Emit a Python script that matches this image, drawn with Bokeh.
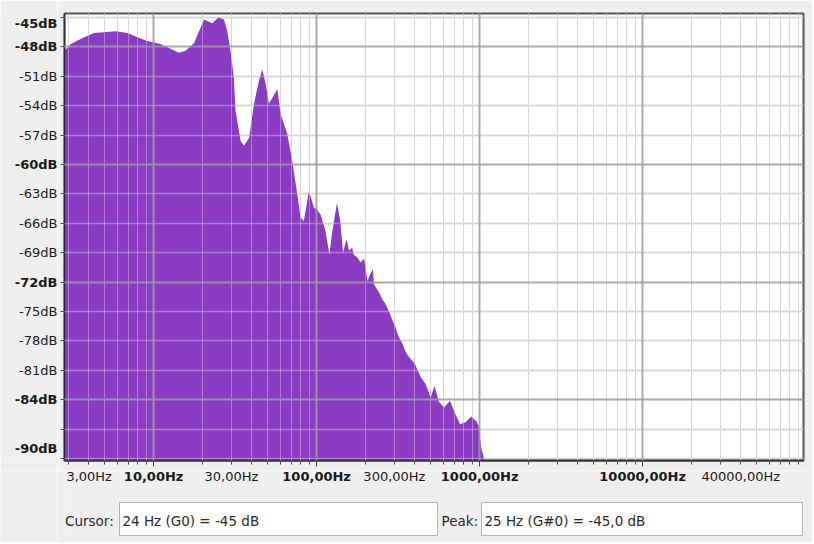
from bokeh.plotting import figure
from bokeh.models import FixedTicker, Grid, Range1d, LinearScale
from bokeh.layouts import gridplot
from bokeh.core.properties import value
from bokeh.embed import file_html
from bokeh.resources import INLINE

# ---- spectrum data (Hz, dB) ----
freqs = [2.84, 3.1, 3.56, 4.3, 4.96, 5.85, 6.9, 7.9, 9.1, 11.0, 12.7, 14.3, 15.7,
         17.7, 19.0, 20.4, 22.9, 25.0, 27.0, 28.3, 29.6, 31.0, 31.8, 34.2, 35.8,
         38.5, 41.3, 44.2, 46.4, 48.7, 51.0, 53.5, 57.4, 60.2, 66.1, 70.8, 76.0,
         79.7, 83.5, 89.7, 96.2, 100.5, 105.7, 113.3, 119.8, 124.4, 133.4, 139.7,
         145.2, 152.6, 158.0, 165.1, 169.0, 177.6, 186.3, 195.6, 205.4, 213.0,
         221.3, 224.6, 236.0, 244.0, 253.8, 262.0, 272.5, 283.0, 293.0, 305.0,
         315.0, 334.0, 347.0, 360.0, 384.0, 400.0, 414.0, 436.0, 465.0, 485.0,
         500.0, 528.0, 563.0, 605.0, 658.0, 703.0, 757.0, 790.0, 820.0, 888.0,
         955.0, 988.0, 1022.0, 1060.0, 1080.0, 97000.0]
levels = [-48.4, -47.7, -47.2, -46.6, -46.5, -46.4, -46.6, -47.0, -47.4, -47.7, -48.2,
          -48.6, -48.4, -47.6, -46.4, -45.2, -45.6, -45.0, -45.2, -46.4, -48.4, -51.0,
          -54.5, -57.6, -58.1, -57.3, -53.8, -51.5, -50.3, -51.8, -53.8, -53.2, -52.3,
          -54.9, -56.9, -59.6, -63.0, -65.4, -65.8, -62.7, -64.4, -64.6, -65.1, -66.8,
          -69.2, -67.0, -63.9, -65.8, -69.0, -67.6, -68.8, -68.5, -69.2, -69.5, -70.0,
          -69.6, -71.9, -71.2, -70.7, -72.2, -72.8, -73.2, -73.8, -74.1, -74.7, -75.3,
          -76.0, -76.6, -77.4, -78.2, -78.9, -79.4, -80.0, -80.3, -80.9, -81.7, -82.4,
          -83.1, -83.8, -82.6, -84.2, -84.8, -84.1, -85.3, -86.5, -86.4, -86.3, -85.7,
          -86.2, -86.7, -88.9, -89.9, -100.0, -100.0]
floor_db = -120.0

# ---- axis ticks and labels ----
y_ticks = [-45, -48, -51, -54, -57, -60, -63, -66, -69, -72, -75, -78, -81, -84, -87, -90]
y_major = [-48, -60, -72, -84]
y_label_vals = [-45, -48, -51, -54, -57, -60, -63, -66, -69, -72, -75, -78, -81, -84, -90]
y_label_text = ["-45dB", "-48dB", "-51dB", "-54dB", "-57dB", "-60dB", "-63dB", "-66dB",
                "-69dB", "-72dB", "-75dB", "-78dB", "-81dB", "-84dB", "-90dB"]
y_bold = [-45, -48, -60, -72, -84, -90]

x_major = [10, 100, 1000, 10000]
x_minor = [m * 10 ** d for d in range(0, 5) for m in range(2, 10)
           if 2.84 <= m * 10 ** d <= 97000]
x_label_freqs = [3, 10, 30, 100, 300, 1000, 10000, 40000]
x_label_text = ["3,00Hz", "10,00Hz", "30,00Hz", "100,00Hz", "300,00Hz",
                "1000,00Hz", "10000,00Hz", "40000,00Hz"]
x_bold = [10, 100, 1000, 10000]

cursor_text = "24 Hz (G0) = -45 dB"
peak_text = "25 Hz (G#0) = -45,0 dB"

FONT = "DejaVu Sans"
PURPLE = "#8a3bc1"
PANEL = "#efefef"
INK = "#1a1a1a"

X0, X1 = 2.84, 97000
Y0, Y1 = -90.2, -44.6

LEFT_W = 57      # label column width
MAIN_W = 755     # main plot width
TOP_H = 470      # main plot height
BOT_H = 72       # bottom strip height

# ---------------- main spectrum plot ----------------
p = figure(width=MAIN_W, height=TOP_H, x_axis_type="log",
           x_range=Range1d(X0, X1), y_range=Range1d(Y0, Y1),
           output_backend="svg", toolbar_location=None,
           min_border_left=5, min_border_right=9, min_border_top=13, min_border_bottom=10)
p.background_fill_color = "white"
p.border_fill_color = PANEL
p.outline_line_color = "#555555"
p.outline_line_width = 2
p.grid.visible = False

p.varea(x=freqs, y1=floor_db, y2=levels, fill_color=PURPLE)

y_minor = [v for v in y_ticks if v not in y_major]
p.add_layout(Grid(dimension=0, ticker=FixedTicker(ticks=x_minor),
                  grid_line_color="#c4c4c4", grid_line_width=1))
p.add_layout(Grid(dimension=1, ticker=FixedTicker(ticks=y_minor),
                  grid_line_color="#c0c0c0", grid_line_width=1.5))
p.add_layout(Grid(dimension=0, ticker=FixedTicker(ticks=x_minor),
                  grid_line_color="white", grid_line_alpha=0.32, grid_line_width=1,
                  level="overlay"))
p.add_layout(Grid(dimension=1, ticker=FixedTicker(ticks=y_minor),
                  grid_line_color="white", grid_line_alpha=0.32, grid_line_width=1.5,
                  level="overlay"))
p.add_layout(Grid(dimension=0, ticker=FixedTicker(ticks=x_major),
                  grid_line_color="#9c9c9c", grid_line_alpha=0.85, grid_line_width=2,
                  level="overlay"))
p.add_layout(Grid(dimension=1, ticker=FixedTicker(ticks=y_major),
                  grid_line_color="#9c9c9c", grid_line_alpha=0.85, grid_line_width=2,
                  level="overlay"))

xa = p.xaxis[0]
xa.ticker = FixedTicker(ticks=x_major, minor_ticks=x_minor)
xa.major_label_overrides = {t: " " for t in x_major}
xa.major_label_text_font_size = "1px"
xa.major_label_standoff = 0
xa.axis_line_color = "#303030"
xa.axis_line_width = 2
xa.major_tick_in = 0
xa.major_tick_out = 6
xa.minor_tick_in = 0
xa.minor_tick_out = 4
xa.major_tick_line_color = "#404040"
xa.minor_tick_line_color = "#505050"

ya = p.yaxis[0]
ya.ticker = FixedTicker(ticks=y_ticks)
ya.major_label_overrides = {t: " " for t in y_ticks}
ya.major_label_text_font_size = "1px"
ya.major_label_standoff = 0
ya.axis_line_color = "#2a2a40"
ya.axis_line_width = 1.5
ya.major_tick_in = 0
ya.major_tick_out = 4
ya.major_tick_line_color = "#505050"
ya.minor_tick_line_color = None

# ---------------- y tick labels (shares the dB range) ----------------
yl = figure(width=LEFT_W, height=TOP_H, x_range=Range1d(0, LEFT_W), y_range=p.y_range,
            output_backend="svg", toolbar_location=None,
            x_axis_location=None, y_axis_location=None,
            min_border_left=0, min_border_right=0, min_border_top=13, min_border_bottom=10)
yl.background_fill_color = PANEL
yl.border_fill_color = PANEL
yl.outline_line_color = None
yl.grid.visible = False

def y_shift(v):
    if v == y_ticks[0]:
        return 6
    if v == y_ticks[-1]:
        return -10
    return 0

for bold in (False, True):
    vals = [v for v in y_label_vals if (v in y_bold) == bold]
    txt = [t for v, t in zip(y_label_vals, y_label_text) if (v in y_bold) == bold]
    yl.text(x=[LEFT_W] * len(vals), y=vals, text=txt,
            y_offset=[y_shift(v) for v in vals],
            text_align="right", text_baseline="middle", text_color=INK,
            text_font=value(FONT), text_font_size="13px",
            text_font_style="bold" if bold else "normal")

# ---------------- x tick labels + status row (shares the Hz range) ----------------
bot = figure(width=MAIN_W, height=BOT_H, x_axis_type="log", x_range=p.x_range,
             y_range=Range1d(BOT_H, 0), output_backend="svg", toolbar_location=None,
             x_axis_location=None, y_axis_location=None,
             min_border_left=5, min_border_right=9, min_border_top=0, min_border_bottom=0)
bot.background_fill_color = PANEL
bot.border_fill_color = PANEL
bot.outline_line_color = None
bot.grid.visible = False
bot.extra_x_ranges = {"px": Range1d(64, 803)}
bot.extra_x_scales = {"px": LinearScale()}

first = x_label_freqs[0]
for bold in (False, True):
    fs = [f for f in x_label_freqs if (f in x_bold) == bold and f != first]
    txt = [t for f, t in zip(x_label_freqs, x_label_text) if (f in x_bold) == bold and f != first]
    bot.text(x=fs, y=[6] * len(fs), text=txt, text_align="center", text_baseline="middle",
             text_color=INK, text_font=value(FONT), text_font_size="13px",
             text_font_style="bold" if bold else "normal")
bot.text(x=[first], y=[6], text=[x_label_text[0]], x_offset=[-2],
         text_align="left", text_baseline="middle", text_color=INK,
         text_font=value(FONT), text_font_size="13px")

bot.quad(left=[119, 481], right=[437, 802], top=[32, 32], bottom=[65, 65],
         fill_color="white", line_color="#b4b4b4", line_width=1, x_range_name="px")
bot.text(x=[64.5, 441], y=[50, 50], text=["Cursor:", "Peak:"], x_range_name="px",
         text_font=value(FONT), text_font_size="13.5px", text_baseline="middle",
         text_color="#2a2a2a")
bot.text(x=[122, 484], y=[50, 50], text=[cursor_text, peak_text], x_range_name="px",
         text_font=value(FONT), text_font_size="13.5px", text_baseline="middle",
         text_color="#2a2a2a")

corner = figure(width=LEFT_W, height=BOT_H, output_backend="svg", toolbar_location=None,
                x_axis_location=None, y_axis_location=None, min_border=0)
corner.background_fill_color = PANEL
corner.border_fill_color = PANEL
corner.outline_line_color = None
corner.grid.visible = False

layout = gridplot([[yl, p], [corner, bot]], toolbar_location=None)
open("out.html", "w").write(file_html(layout, INLINE))
